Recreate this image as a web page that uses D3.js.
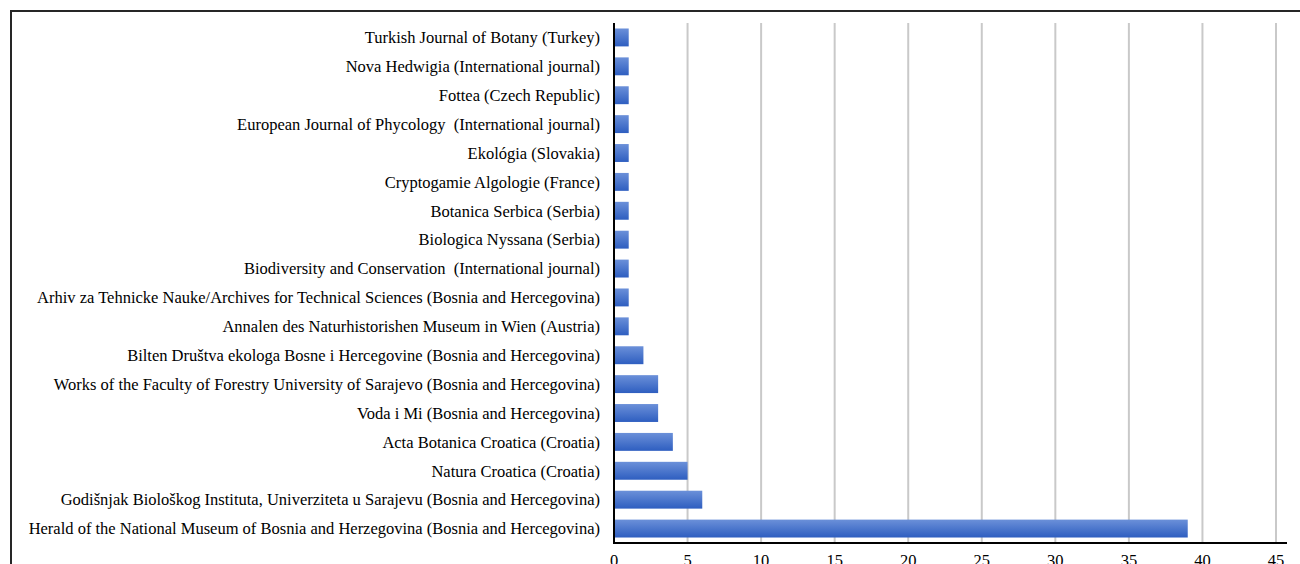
<!DOCTYPE html>
<html>
<head>
<meta charset="utf-8">
<script src="https://cdn.jsdelivr.net/npm/d3@7"></script>
<style>
  body { margin: 0; background: #fff; }
  svg { display: block; }
  svg text { font-family: "Liberation Serif", "Times New Roman", Times, "DejaVu Serif", serif; }
</style>
</head>
<body>
<svg id="chart" width="1300" height="564"></svg>
<script>
var journals = [
  "Turkish Journal of Botany (Turkey)",
  "Nova Hedwigia (International journal)",
  "Fottea (Czech Republic)",
  "European Journal of Phycology  (International journal)",
  "Ekológia (Slovakia)",
  "Cryptogamie Algologie (France)",
  "Botanica Serbica (Serbia)",
  "Biologica Nyssana (Serbia)",
  "Biodiversity and Conservation  (International journal)",
  "Arhiv za Tehnicke Nauke/Archives for Technical Sciences (Bosnia and Hercegovina)",
  "Annalen des Naturhistorishen Museum in Wien (Austria)",
  "Bilten Društva ekologa Bosne i Hercegovine (Bosnia and Hercegovina)",
  "Works of the Faculty of Forestry University of Sarajevo (Bosnia and Hercegovina)",
  "Voda i Mi (Bosnia and Hercegovina)",
  "Acta Botanica Croatica (Croatia)",
  "Natura Croatica (Croatia)",
  "Godišnjak Biološkog Instituta, Univerziteta u Sarajevu (Bosnia and Hercegovina)",
  "Herald of the National Museum of Bosnia and Herzegovina (Bosnia and Hercegovina)"
];
var papers = [1, 1, 1, 1, 1, 1, 1, 1, 1, 1, 1, 2, 3, 3, 4, 5, 6, 39];
var xTicks = [0, 5, 10, 15, 20, 25, 30, 35, 40, 45];

var svg = d3.select("#chart");
var serif = "'Liberation Serif', 'Times New Roman', Times, 'DejaVu Serif', serif";

// outer frame (only top and left edges show in the crop)
svg.append("path")
    .attr("d", "M11,570 L11,11 L1310,11")
    .attr("fill", "none")
    .attr("stroke", "#262626")
    .attr("stroke-width", 2);

var plotLeft = 614, plotRight = 1276, plotTop = 23, plotBottom = 543;

var x = d3.scaleLinear().domain([0, 45]).range([plotLeft, plotRight]);
var y = d3.scaleBand().domain(journals).range([plotTop, plotBottom]).paddingInner(0.38).paddingOuter(0.19);

var defs = svg.append("defs");
var grad = defs.append("linearGradient").attr("id", "barGrad")
    .attr("x1", 0).attr("y1", 0).attr("x2", 0).attr("y2", 1);
grad.append("stop").attr("offset", "0%").attr("stop-color", "#6b90d9");
grad.append("stop").attr("offset", "100%").attr("stop-color", "#2e5ec0");

// gridlines
svg.append("g").selectAll("line").data(xTicks.slice(1)).enter()
  .append("line")
    .attr("x1", function(d) { return x(d); })
    .attr("x2", function(d) { return x(d); })
    .attr("y1", plotTop)
    .attr("y2", plotBottom)
    .attr("stroke", "#c9c9c9")
    .attr("stroke-width", 2);

// bars
svg.append("g").selectAll("rect").data(journals).enter()
  .append("rect")
    .attr("x", x(0))
    .attr("y", function(d) { return y(d); })
    .attr("width", function(d, i) { return x(papers[i]) - x(0); })
    .attr("height", y.bandwidth())
    .attr("fill", "url(#barGrad)");

// category labels
svg.append("g").selectAll("text").data(journals).enter()
  .append("text")
    .attr("x", 600)
    .attr("y", function(d) { return y(d) + y.bandwidth() / 2; })
    .attr("dy", "0.35em")
    .attr("text-anchor", "end")
    .attr("font-family", serif)
    .attr("font-size", 16.5)
    .attr("fill", "#000")
    .style("white-space", "pre")
    .text(function(d) { return d; });

// axes lines
svg.append("line")
    .attr("x1", x(0)).attr("x2", x(0))
    .attr("y1", plotTop).attr("y2", plotBottom + 1)
    .attr("stroke", "#000").attr("stroke-width", 2);
svg.append("line")
    .attr("x1", x(0) - 1).attr("x2", 1287)
    .attr("y1", plotBottom).attr("y2", plotBottom)
    .attr("stroke", "#000").attr("stroke-width", 2);

// x tick labels
svg.append("g").selectAll("text").data(xTicks).enter()
  .append("text")
    .attr("x", function(d) { return x(d); })
    .attr("y", 566)
    .attr("text-anchor", "middle")
    .attr("font-family", serif)
    .attr("font-size", 16.5)
    .attr("fill", "#000")
    .text(function(d) { return d; });
</script>
</body>
</html>
